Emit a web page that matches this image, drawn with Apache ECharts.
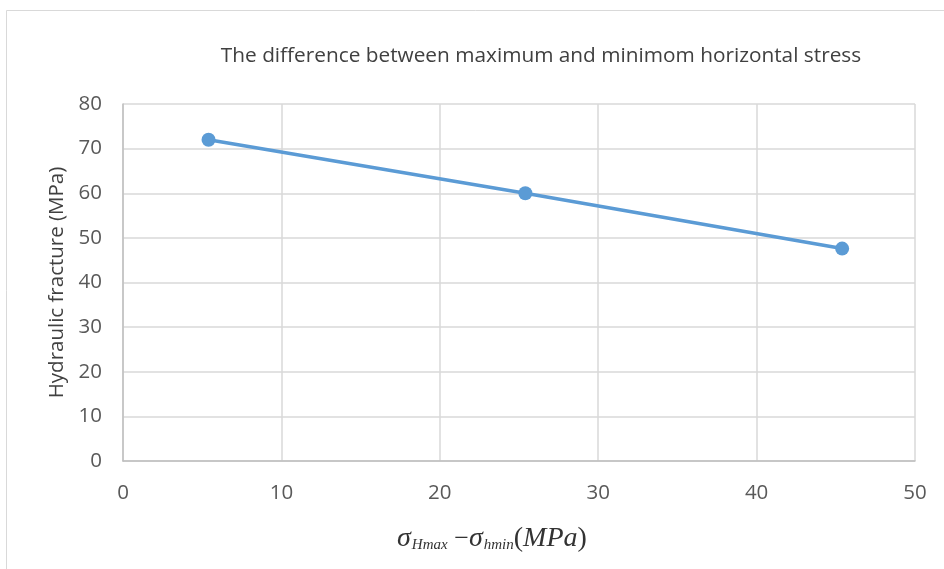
<!DOCTYPE html>
<html>
<head>
<meta charset="utf-8">
<script src="https://cdn.jsdelivr.net/npm/echarts@6/dist/echarts.min.js"></script>
<style>
html,body{margin:0;padding:0;background:#fff;}
#c{width:944px;height:569px;}
</style>
</head>
<body>
<div id="c"></div>
<script>
const xValues = [5.4, 25.4, 45.4];
const yValues = [72, 60, 47.6];
const titleText = 'The difference between maximum and minimom horizontal stress';
const yAxisTitle = 'Hydraulic fracture (MPa)';

const chart = echarts.init(document.getElementById('c'), null, {renderer: 'canvas'});
const font = 'Open Sans, Lato, sans-serif';
chart.setOption({
  animation: false,
  backgroundColor: '#fff',
  title: {
    text: titleText,
    left: 536, top: 41, textAlign: 'center',
    textStyle: {fontFamily: font, fontSize: 20.8, fontWeight: 'normal', color: '#404040'}
  },
  graphic: [{
    type: 'rect', shape: {x: 6.5, y: 10.5, width: 960, height: 600},
    style: {fill: 'none', stroke: '#d9d9d9', lineWidth: 1}, silent: true
  }, {
    type: 'text', left: 397, top: 525,
    style: {
      text: '{s|σ}{sub|Hmax}  {m|−}{s|σ}{sub|hmin}{p|(}{i|MPa}{p|)}',
      rich: {
        s: {fontFamily: 'Liberation Serif, serif', fontStyle: 'italic', fontSize: 28, fill: '#333', verticalAlign: 'bottom'},
        sub: {fontFamily: 'Liberation Serif, serif', fontStyle: 'italic', fontSize: 15, fill: '#333', padding: [13, 0, 0, 1], verticalAlign: 'bottom'},
        m: {fontFamily: 'Liberation Serif, serif', fontSize: 26, fill: '#333'},
        p: {fontFamily: 'Liberation Serif, serif', fontSize: 28, fill: '#333'},
        i: {fontFamily: 'Liberation Serif, serif', fontStyle: 'italic', fontSize: 28, fill: '#333'}
      }
    }
  }],
  grid: {left: 123, right: 29, top: 104, bottom: 108},
  xAxis: {
    type: 'value', min: 0, max: 50, interval: 10,
    axisLine: {show: true, lineStyle: {color: '#bfbfbf', width: 1.5}},
    axisTick: {show: false},
    axisLabel: {fontFamily: font, fontSize: 20.5, color: '#595959', margin: 22},
    splitLine: {show: true, lineStyle: {color: '#d9d9d9', width: 1.5}}
  },
  yAxis: {
    type: 'value', min: 0, max: 80, interval: 10,
    name: yAxisTitle, nameLocation: 'middle', nameGap: 54,
    nameTextStyle: {fontFamily: font, fontSize: 20.5, color: '#404040'},
    axisLine: {show: true, lineStyle: {color: '#bfbfbf', width: 1.5}},
    axisTick: {show: false},
    axisLabel: {fontFamily: font, fontSize: 20.5, color: '#595959', margin: 21},
    splitLine: {show: true, lineStyle: {color: '#d9d9d9', width: 1.5}}
  },
  series: [{
    type: 'line',
    data: xValues.map((x, i) => [x, yValues[i]]),
    symbol: 'circle', symbolSize: 14,
    lineStyle: {color: '#5b9bd5', width: 3.5},
    itemStyle: {color: '#5b9bd5'}
  }]
});
</script>
</body>
</html>
